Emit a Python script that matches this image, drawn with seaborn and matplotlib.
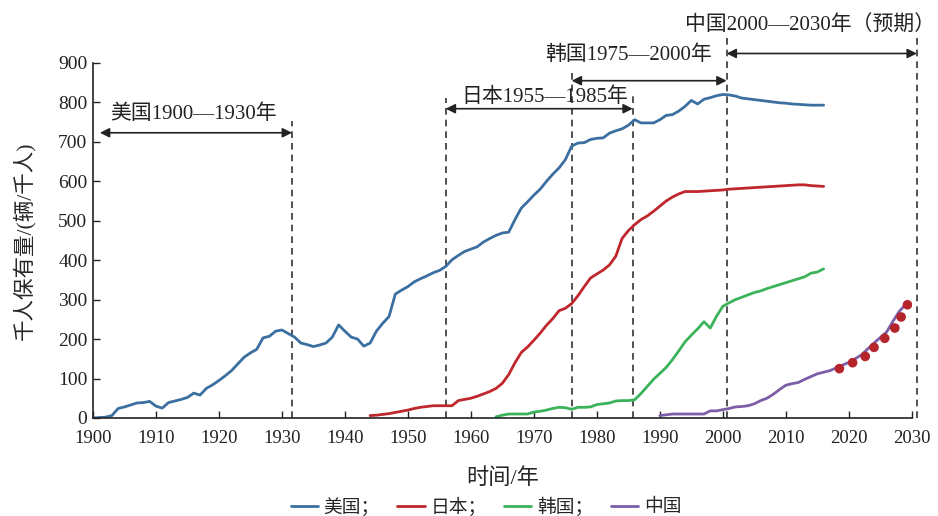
import numpy as np
import pandas as pd
import matplotlib
matplotlib.use("Agg")
import matplotlib.pyplot as plt
import seaborn as sns

# ----------------------------------------------------------------------
# Data (vehicles per 1000 people)
# ----------------------------------------------------------------------
us_years = list(range(1900, 2017))
us_values = [0, 1, 2, 6, 24, 28, 33, 38, 39, 42,
             30, 25, 39, 43, 47, 52, 63, 58, 75, 84,
             95, 107, 120, 137, 154, 165, 174, 203, 207, 220,
             223, 214, 205, 190, 186, 181, 185, 190, 205, 236,
             220, 205, 200, 182, 190, 220, 240, 257, 314, 324,
             333, 345, 353, 360, 368, 374, 384, 401, 412, 422,
             428, 434, 446, 455, 463, 469, 471, 503, 532, 548,
             565, 580, 600, 618, 634, 655, 689, 697, 698, 706,
             709, 710, 722, 728, 733, 742, 756, 748, 748, 748,
             756, 767, 769, 778, 790, 805, 796, 808, 812, 817,
             820, 819, 816, 811, 809, 807, 805, 803, 801, 799,
             798, 796, 795, 794, 793, 793, 793]

jp_years = list(range(1944, 2017))
jp_values = [6, 7, 9, 11, 14, 17,
             20, 24, 27, 29, 31, 31, 31, 31, 44, 47,
             50, 55, 61, 67, 75, 88, 110, 140, 166, 180,
             197, 215, 235, 252, 272, 278, 290, 310, 333, 355,
             365, 375, 388, 410, 455, 475, 490, 503, 512, 524,
             537, 550, 560, 568, 574, 574, 574, 575, 576, 577,
             578, 580, 581, 582, 583, 584, 585, 586, 587, 588,
             589, 590, 591, 591, 589, 588, 587]

kr_years = list(range(1964, 2017))
kr_values = [3, 7, 10, 10, 10, 10,
             15, 17, 20, 24, 27, 26, 22, 27, 27, 28,
             34, 36, 38, 43, 44, 44, 46, 62, 80, 98,
             113, 128, 148, 170, 193, 210, 226, 244, 228, 258,
             283, 292, 300, 306, 312, 318, 322, 328, 333, 338,
             343, 348, 353, 358, 367, 370, 378]

cn_years = list(range(1990, 2030))
cn_values = [6, 8, 10, 10, 10, 10, 10, 10, 18, 18,
             21, 24, 28, 29, 31, 36, 44, 50, 60, 72,
             83, 87, 90, 98, 105, 112, 116, 120, 127, 134,
             141, 150, 160, 175, 190, 204, 218, 245, 270, 288]

# projected points for China
proj_years = [2018.5, 2020.6, 2022.6, 2024.0, 2025.7, 2027.3, 2028.3, 2029.3]
proj_values = [125, 140, 156, 179, 202, 228, 256, 287]

labels = ["美国；", "日本；", "韩国；", "中国"]
colors = ["#3b6fa0", "#c0272d", "#3bb35a", "#7b5ea7"]

# period markers: (start, end, arrow y, text, text x, text y)
periods = [
    (1901.1, 1931.6, 723, "美国1900—1930年", 1916.0, 769),
    (1956.0, 1985.7, 784, "日本1955—1985年", 1971.8, 812),
    (1976.0, 2000.6, 855, "韩国1975—2000年", 1985.1, 919),
    (2000.6, 2030.8, 924, "中国2000—2030年（预期）", 2013.8, 995),
]
vlines = [(1931.6, 754), (1956.0, 810), (1976.0, 888), (1985.7, 815),
          (2000.6, 965), (2030.8, 965)]

# ----------------------------------------------------------------------
# Plot
# ----------------------------------------------------------------------
sns.set_style("ticks")
plt.rcParams['font.family'] = ['Liberation Serif', 'Noto Sans CJK SC']
plt.rcParams['axes.unicode_minus'] = False

fig = plt.figure(figsize=(9.38, 5.16), dpi=100)
ax = fig.add_axes([0.0991, 0.19, 0.873, 0.688])

series = [(us_years, us_values), (jp_years, jp_values),
          (kr_years, kr_values), (cn_years, cn_values)]
for (xs, ys), lab, col in zip(series, labels, colors):
    df = pd.DataFrame({"year": xs, "value": ys})
    sns.lineplot(data=df, x="year", y="value", ax=ax, color=col,
                 linewidth=2, label=lab)

df_proj = pd.DataFrame({"year": proj_years, "value": proj_values})
sns.scatterplot(data=df_proj, x="year", y="value", ax=ax, color="#b5232b",
                s=48, edgecolor="none", zorder=5, legend=False)

for x, top in vlines:
    ax.plot([x, x], [0, top], ls=(0, (4, 3)), color="#333333", lw=1.2,
            clip_on=False, zorder=1)

for x0, x1, y, txt, tx, ty in periods:
    ax.annotate("", xy=(x0, y), xytext=(x1, y),
                arrowprops=dict(arrowstyle="<|-|>", color="#222222", lw=1.2,
                                shrinkA=0, shrinkB=0, mutation_scale=14),
                annotation_clip=False)
    ax.text(tx, ty, txt, ha="center", va="center", fontsize=15,
            color="#222222", clip_on=False)

ax.set_xlim(1900, 2030)
ax.set_ylim(0, 900)
ax.set_xticks(range(1900, 2031, 10))
ax.set_yticks(range(0, 901, 100))
ax.tick_params(direction="in", length=5, width=1, colors="#222222")
ax.tick_params(axis="x", labelsize=13.5, pad=9)
ax.tick_params(axis="y", labelsize=14, pad=4)
sns.despine(ax=ax)
for s in ["left", "bottom"]:
    ax.spines[s].set_linewidth(1.2)
    ax.spines[s].set_color("#222222")

ax.set_xlabel("时间/年", fontsize=16, labelpad=15)
ax.set_ylabel("千人保有量/(辆/千人)", fontsize=15.5, labelpad=16)

ax.legend(loc="center", bbox_to_anchor=(0.48, -0.25), ncol=4,
          frameon=False, fontsize=13.5, handlelength=1.45, columnspacing=0.95,
          handletextpad=0.3, borderaxespad=0, borderpad=0)

fig.savefig("out.png", dpi=100)
